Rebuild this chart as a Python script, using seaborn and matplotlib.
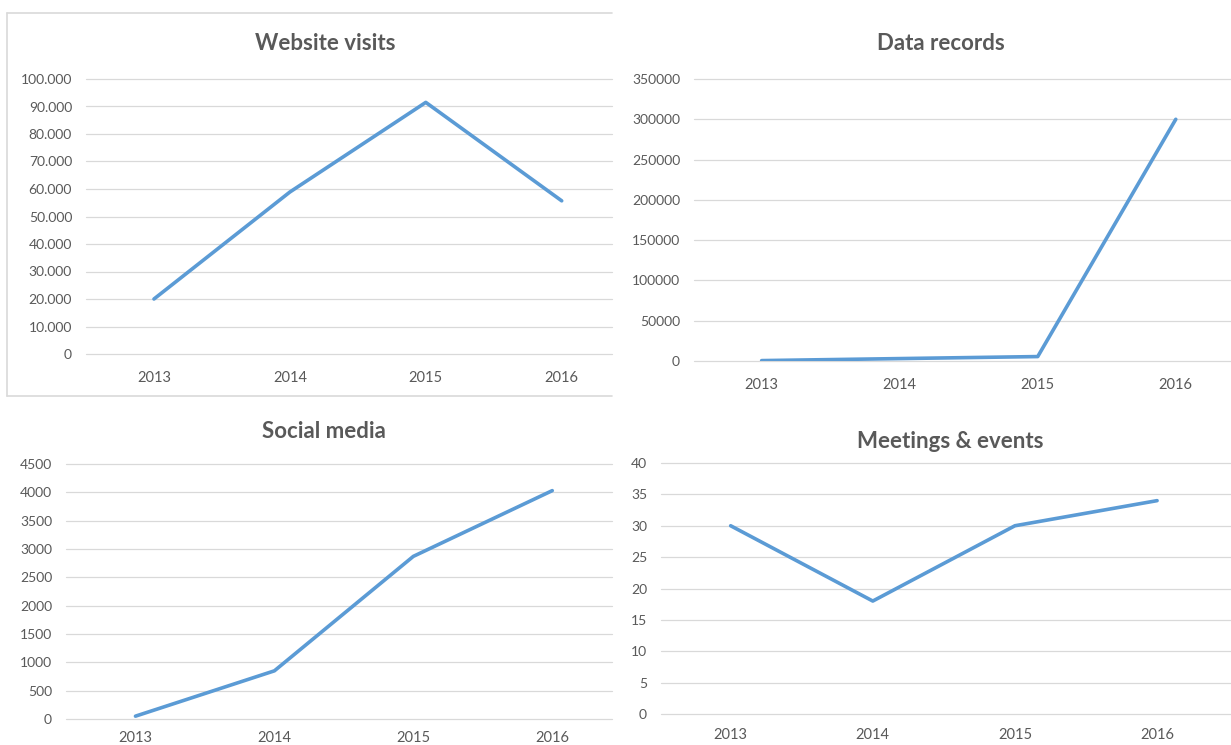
import matplotlib
matplotlib.use("Agg")
import matplotlib.pyplot as plt
import matplotlib.ticker as mticker
from matplotlib.lines import Line2D
import seaborn as sns
import pandas as pd

# data
years = ["2013", "2014", "2015", "2016"]
website_visits = [20000, 58900, 91500, 55700]
data_records = [500, 3000, 5500, 300000]
social_media = [50, 850, 2870, 4030]
meetings_events = [30, 18, 30, 34]

titles = ["Website visits", "Data records", "Social media", "Meetings & events"]

sns.set_style("white")
plt.rcParams['font.family'] = ['Lato', 'DejaVu Sans']

line_color = "#5B9BD5"
grid_color = "#D9D9D9"
text_color = "#595959"

W, H = 1231, 745
fig = plt.figure(figsize=(W / 100, H / 100), dpi=100)


def px_axes(left, right, top, bottom):
    return fig.add_axes([left / W, (H - bottom) / H, (right - left) / W, (bottom - top) / H])


# panel layout in pixels: left, right, top, bottom, xlim, ymax, ystep, x-label pad, title pos
panels = [
    (website_visits, (86, 612, 79, 354), (-0.5, 3.37), 100000, 10000, 12, (325, 43), True),
    (data_records, (694, 1231, 79, 361), (-0.49, 3.40), 350000, 50000, 12, (941, 43), False),
    (social_media, (66, 612, 464, 719), (-0.5, 3.43), 4500, 500, 9, (324, 432), False),
    (meetings_events, (661, 1231, 463, 714), (-0.49, 3.52), 40, 5, 10, (950, 441), False),
]

for (vals, rect, xlim, ymax, ystep, xpad, tpos, dotted), title in zip(panels, titles):
    ax = px_axes(*rect)
    df = pd.DataFrame({"year": years, "value": vals})
    sns.lineplot(data=df, x="year", y="value", ax=ax, color=line_color,
                 linewidth=2.6, solid_capstyle="round", solid_joinstyle="round")
    ax.set_xlim(*xlim)
    ax.set_ylim(0, ymax)
    ax.yaxis.set_major_locator(mticker.MultipleLocator(ystep))
    if dotted:
        ax.yaxis.set_major_formatter(mticker.FuncFormatter(lambda v, p: f"{int(round(v)):,}".replace(",", ".")))
    else:
        ax.yaxis.set_major_formatter(mticker.FuncFormatter(lambda v, p: f"{int(round(v))}"))
    ax.grid(axis="y", color=grid_color, linewidth=0.9)
    for gl in ax.get_ygridlines():
        gl.set_clip_on(False)
    ax.set_axisbelow(True)
    for s in ax.spines.values():
        s.set_visible(False)
    ax.set_xlabel("")
    ax.set_ylabel("")
    ax.tick_params(axis="y", length=0, pad=10, labelsize=10, labelcolor=text_color)
    ax.tick_params(axis="x", length=0, pad=xpad, labelsize=10.5, labelcolor=text_color)
    fig.text(tpos[0] / W, (H - tpos[1]) / H, title, ha="center", va="center",
             fontsize=16, fontweight="bold", color=text_color)

# light frame around the first chart (cut at its right side)
bx0, bx1, by0, by1 = 7, 612, 13, 396
for xs, ys in [((bx0, bx1), (by0, by0)), ((bx0, bx0), (by0, by1)), ((bx0, bx1), (by1, by1))]:
    fig.add_artist(Line2D([x / W for x in xs], [(H - y) / H for y in ys],
                          color=grid_color, linewidth=1.2))

fig.savefig("out.png", dpi=100)
